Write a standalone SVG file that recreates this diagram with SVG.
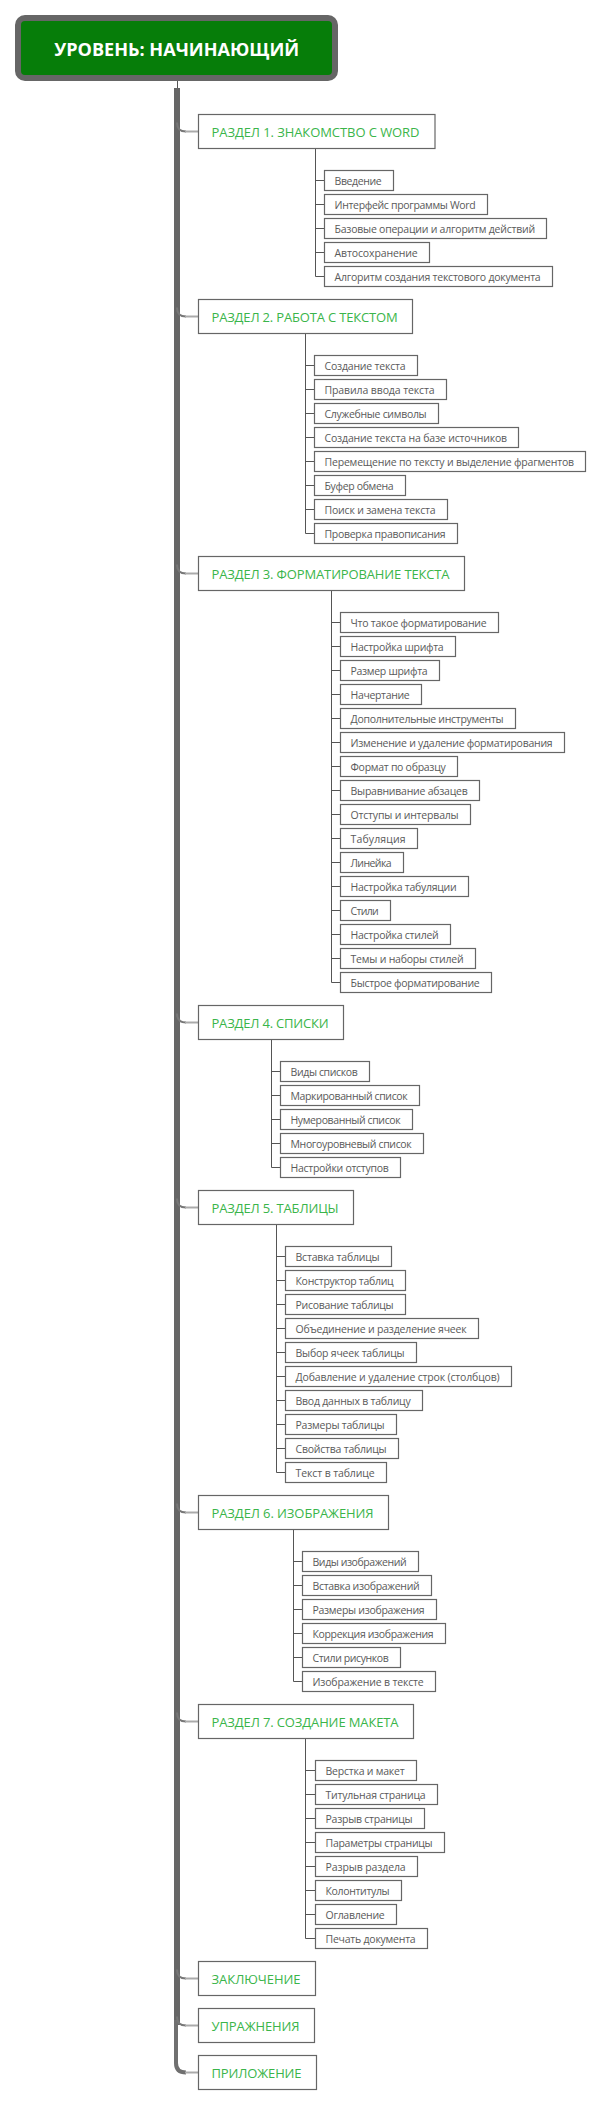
<svg xmlns="http://www.w3.org/2000/svg" width="602" height="2106" viewBox="0 0 602 2106">
<style>
.sec rect{fill:#fff;stroke:#666;stroke-width:1.2}
.sec text{font-family:"Open Sans","Liberation Sans",sans-serif;font-size:13px;fill:#3ab54a}
.item rect{fill:#fff;stroke:#666;stroke-width:1.2}
.item text{font-family:"Open Sans","Liberation Sans",sans-serif;font-size:10.5px;fill:#5a5a5a}
.cl{stroke:#555;stroke-width:1;fill:none}
.br{stroke:#777;stroke-width:2;fill:none}
.bh{stroke:#aaa;stroke-width:2;fill:none}
</style>
<rect width="602" height="2106" fill="#fff"/>
<g id="connectors">
<line class="cl" x1="177.5" y1="81" x2="177.5" y2="89"/>
<rect x="174" y="88" width="6" height="1937" fill="#666"/>
<path d="M176,2020 V2063 Q176,2072.5 186,2072.5" stroke="#707070" stroke-width="4" fill="none"/>
<path class="br" d="M177,122.5 Q177,131.5 186,131.5"/><line class="bh" x1="185" y1="131.5" x2="198.5" y2="131.5"/>
<path class="br" d="M177,307.5 Q177,316.5 186,316.5"/><line class="bh" x1="185" y1="316.5" x2="198.5" y2="316.5"/>
<path class="br" d="M177,564.5 Q177,573.5 186,573.5"/><line class="bh" x1="185" y1="573.5" x2="198.5" y2="573.5"/>
<path class="br" d="M177,1013.5 Q177,1022.5 186,1022.5"/><line class="bh" x1="185" y1="1022.5" x2="198.5" y2="1022.5"/>
<path class="br" d="M177,1198.5 Q177,1207.5 186,1207.5"/><line class="bh" x1="185" y1="1207.5" x2="198.5" y2="1207.5"/>
<path class="br" d="M177,1503.5 Q177,1512.5 186,1512.5"/><line class="bh" x1="185" y1="1512.5" x2="198.5" y2="1512.5"/>
<path class="br" d="M177,1712.5 Q177,1721.5 186,1721.5"/><line class="bh" x1="185" y1="1721.5" x2="198.5" y2="1721.5"/>
<path class="br" d="M177,1969.5 Q177,1978.5 186,1978.5"/><line class="bh" x1="185" y1="1978.5" x2="198.5" y2="1978.5"/>
<path class="br" d="M177,2016.5 Q177,2025.5 186,2025.5"/><line class="bh" x1="185" y1="2025.5" x2="198.5" y2="2025.5"/>
<line class="bh" x1="185" y1="2072.5" x2="198.5" y2="2072.5"/>
<!-- section 1 -->
<path class="cl" d="M315.5,148.5 V276.5 M315.5,180.5 H324.5 M315.5,204.5 H324.5 M315.5,228.5 H324.5 M315.5,252.5 H324.5 M315.5,276.5 H324.5"/>
<!-- section 2 -->
<path class="cl" d="M305.5,333.5 V533.5 M305.5,365.5 H314.5 M305.5,389.5 H314.5 M305.5,413.5 H314.5 M305.5,437.5 H314.5 M305.5,461.5 H314.5 M305.5,485.5 H314.5 M305.5,509.5 H314.5 M305.5,533.5 H314.5"/>
<!-- section 3 -->
<path class="cl" d="M331.5,590.5 V982.5 M331.5,622.5 H340.5 M331.5,646.5 H340.5 M331.5,670.5 H340.5 M331.5,694.5 H340.5 M331.5,718.5 H340.5 M331.5,742.5 H340.5 M331.5,766.5 H340.5 M331.5,790.5 H340.5 M331.5,814.5 H340.5 M331.5,838.5 H340.5 M331.5,862.5 H340.5 M331.5,886.5 H340.5 M331.5,910.5 H340.5 M331.5,934.5 H340.5 M331.5,958.5 H340.5 M331.5,982.5 H340.5"/>
<!-- section 4 -->
<path class="cl" d="M271.5,1039.5 V1167.5 M271.5,1071.5 H280.5 M271.5,1095.5 H280.5 M271.5,1119.5 H280.5 M271.5,1143.5 H280.5 M271.5,1167.5 H280.5"/>
<!-- section 5 -->
<path class="cl" d="M276.5,1224.5 V1472.5 M276.5,1256.5 H285.5 M276.5,1280.5 H285.5 M276.5,1304.5 H285.5 M276.5,1328.5 H285.5 M276.5,1352.5 H285.5 M276.5,1376.5 H285.5 M276.5,1400.5 H285.5 M276.5,1424.5 H285.5 M276.5,1448.5 H285.5 M276.5,1472.5 H285.5"/>
<!-- section 6 -->
<path class="cl" d="M293.5,1529.5 V1681.5 M293.5,1561.5 H302.5 M293.5,1585.5 H302.5 M293.5,1609.5 H302.5 M293.5,1633.5 H302.5 M293.5,1657.5 H302.5 M293.5,1681.5 H302.5"/>
<!-- section 7 -->
<path class="cl" d="M305.5,1738.5 V1938.5 M305.5,1770.5 H315.5 M305.5,1794.5 H315.5 M305.5,1818.5 H315.5 M305.5,1842.5 H315.5 M305.5,1866.5 H315.5 M305.5,1890.5 H315.5 M305.5,1914.5 H315.5 M305.5,1938.5 H315.5"/>
</g>
<g id="root">
<rect x="18" y="18" width="317" height="60" rx="7" fill="#067d09" stroke="#666" stroke-width="6"/>
<text x="176.7" y="56" text-anchor="middle" font-family="'Open Sans','Liberation Sans',sans-serif" font-weight="bold" font-size="18.5" fill="#fff" textLength="245" lengthAdjust="spacingAndGlyphs">УРОВЕНЬ: НАЧИНАЮЩИЙ</text>
</g>
<g id="s1" class="sec"><rect x="198.5" y="114.5" width="236.5" height="34"/><text x="211.5" y="136.5" textLength="208">РАЗДЕЛ 1. ЗНАКОМСТВО С WORD</text></g>
<g id="s1-1" class="item"><rect x="324.5" y="170.5" width="69" height="20"/><text x="334.5" y="185" textLength="47.2">Введение</text></g>
<g id="s1-2" class="item"><rect x="324.5" y="194.5" width="163" height="20"/><text x="334.5" y="209" textLength="141.2">Интерфейс программы Word</text></g>
<g id="s1-3" class="item"><rect x="324.5" y="218.5" width="222" height="20"/><text x="334.5" y="233" textLength="200.6">Базовые операции и алгоритм действий</text></g>
<g id="s1-4" class="item"><rect x="324.5" y="242.5" width="105" height="20"/><text x="334.5" y="257" textLength="83.2">Автосохранение</text></g>
<g id="s1-5" class="item"><rect x="324.5" y="266.5" width="228" height="20"/><text x="334.5" y="281" textLength="206.2">Алгоритм создания текстового документа</text></g>

<g id="s2" class="sec"><rect x="198.5" y="299.5" width="214" height="34"/><text x="211.5" y="321.5" textLength="186.1">РАЗДЕЛ 2. РАБОТА С ТЕКСТОМ</text></g>
<g id="s2-1" class="item"><rect x="314.5" y="355.5" width="103" height="20"/><text x="324.5" y="370" textLength="81.2">Создание текста</text></g>
<g id="s2-2" class="item"><rect x="314.5" y="379.5" width="132" height="20"/><text x="324.5" y="394" textLength="110.2">Правила ввода текста</text></g>
<g id="s2-3" class="item"><rect x="314.5" y="403.5" width="124" height="20"/><text x="324.5" y="418" textLength="102.2">Служебные символы</text></g>
<g id="s2-4" class="item"><rect x="314.5" y="427.5" width="204" height="20"/><text x="324.5" y="442" textLength="182.6">Создание текста на базе источников</text></g>
<g id="s2-5" class="item"><rect x="314.5" y="451.5" width="271" height="20"/><text x="324.5" y="466" textLength="249.6">Перемещение по тексту и выделение фрагментов</text></g>
<g id="s2-6" class="item"><rect x="314.5" y="475.5" width="91" height="20"/><text x="324.5" y="490" textLength="69.2">Буфер обмена</text></g>
<g id="s2-7" class="item"><rect x="314.5" y="499.5" width="133" height="20"/><text x="324.5" y="514" textLength="111.2">Поиск и замена текста</text></g>
<g id="s2-8" class="item"><rect x="314.5" y="523.5" width="143" height="20"/><text x="324.5" y="538" textLength="121.2">Проверка правописания</text></g>

<g id="s3" class="sec"><rect x="198.5" y="556.5" width="266" height="34"/><text x="211.5" y="578.5" textLength="238.1">РАЗДЕЛ 3. ФОРМАТИРОВАНИЕ ТЕКСТА</text></g>
<g id="s3-1" class="item"><rect x="340.5" y="612.5" width="158" height="20"/><text x="350.5" y="627" textLength="136.2">Что такое форматирование</text></g>
<g id="s3-2" class="item"><rect x="340.5" y="636.5" width="115" height="20"/><text x="350.5" y="651" textLength="93.2">Настройка шрифта</text></g>
<g id="s3-3" class="item"><rect x="340.5" y="660.5" width="99" height="20"/><text x="350.5" y="675" textLength="77.2">Размер шрифта</text></g>
<g id="s3-4" class="item"><rect x="340.5" y="684.5" width="81" height="20"/><text x="350.5" y="699" textLength="59.2">Начертание</text></g>
<g id="s3-5" class="item"><rect x="340.5" y="708.5" width="175" height="20"/><text x="350.5" y="723" textLength="153.2">Дополнительные инструменты</text></g>
<g id="s3-6" class="item"><rect x="340.5" y="732.5" width="224" height="20"/><text x="350.5" y="747" textLength="202.2">Изменение и удаление форматирования</text></g>
<g id="s3-7" class="item"><rect x="340.5" y="756.5" width="117" height="20"/><text x="350.5" y="771" textLength="95.2">Формат по образцу</text></g>
<g id="s3-8" class="item"><rect x="340.5" y="780.5" width="139" height="20"/><text x="350.5" y="795" textLength="117.2">Выравнивание абзацев</text></g>
<g id="s3-9" class="item"><rect x="340.5" y="804.5" width="130" height="20"/><text x="350.5" y="819" textLength="108.2">Отступы и интервалы</text></g>
<g id="s3-10" class="item"><rect x="340.5" y="828.5" width="77" height="20"/><text x="350.5" y="843" textLength="55.2">Табуляция</text></g>
<g id="s3-11" class="item"><rect x="340.5" y="852.5" width="63" height="20"/><text x="350.5" y="867" textLength="41.2">Линейка</text></g>
<g id="s3-12" class="item"><rect x="340.5" y="876.5" width="128" height="20"/><text x="350.5" y="891" textLength="106.2">Настройка табуляции</text></g>
<g id="s3-13" class="item"><rect x="340.5" y="900.5" width="50" height="20"/><text x="350.5" y="915" textLength="28.2">Стили</text></g>
<g id="s3-14" class="item"><rect x="340.5" y="924.5" width="110" height="20"/><text x="350.5" y="939" textLength="88.2">Настройка стилей</text></g>
<g id="s3-15" class="item"><rect x="340.5" y="948.5" width="135" height="20"/><text x="350.5" y="963" textLength="113.2">Темы и наборы стилей</text></g>
<g id="s3-16" class="item"><rect x="340.5" y="972.5" width="151" height="20"/><text x="350.5" y="987" textLength="129.2">Быстрое форматирование</text></g>

<g id="s4" class="sec"><rect x="198.5" y="1005.5" width="145" height="34"/><text x="211.5" y="1027.5" textLength="117.1">РАЗДЕЛ 4. СПИСКИ</text></g>
<g id="s4-1" class="item"><rect x="280.5" y="1061.5" width="89" height="20"/><text x="290.5" y="1076" textLength="67.2">Виды списков</text></g>
<g id="s4-2" class="item"><rect x="280.5" y="1085.5" width="139" height="20"/><text x="290.5" y="1100" textLength="117.2">Маркированный список</text></g>
<g id="s4-3" class="item"><rect x="280.5" y="1109.5" width="132" height="20"/><text x="290.5" y="1124" textLength="110.2">Нумерованный список</text></g>
<g id="s4-4" class="item"><rect x="280.5" y="1133.5" width="143" height="20"/><text x="290.5" y="1148" textLength="121.2">Многоуровневый список</text></g>
<g id="s4-5" class="item"><rect x="280.5" y="1157.5" width="120" height="20"/><text x="290.5" y="1172" textLength="98.2">Настройки отступов</text></g>

<g id="s5" class="sec"><rect x="198.5" y="1190.5" width="155" height="34"/><text x="211.5" y="1212.5" textLength="127.1">РАЗДЕЛ 5. ТАБЛИЦЫ</text></g>
<g id="s5-1" class="item"><rect x="285.5" y="1246.5" width="106" height="20"/><text x="295.5" y="1261" textLength="84.2">Вставка таблицы</text></g>
<g id="s5-2" class="item"><rect x="285.5" y="1270.5" width="120" height="20"/><text x="295.5" y="1285" textLength="98.2">Конструктор таблиц</text></g>
<g id="s5-3" class="item"><rect x="285.5" y="1294.5" width="120" height="20"/><text x="295.5" y="1309" textLength="98.2">Рисование таблицы</text></g>
<g id="s5-4" class="item"><rect x="285.5" y="1318.5" width="193" height="20"/><text x="295.5" y="1333" textLength="171.2">Объединение и разделение ячеек</text></g>
<g id="s5-5" class="item"><rect x="285.5" y="1342.5" width="131" height="20"/><text x="295.5" y="1357" textLength="109.2">Выбор ячеек таблицы</text></g>
<g id="s5-6" class="item"><rect x="285.5" y="1366.5" width="226" height="20"/><text x="295.5" y="1381" textLength="204.2">Добавление и удаление строк (столбцов)</text></g>
<g id="s5-7" class="item"><rect x="285.5" y="1390.5" width="137" height="20"/><text x="295.5" y="1405" textLength="115.2">Ввод данных в таблицу</text></g>
<g id="s5-8" class="item"><rect x="285.5" y="1414.5" width="111" height="20"/><text x="295.5" y="1429" textLength="89.2">Размеры таблицы</text></g>
<g id="s5-9" class="item"><rect x="285.5" y="1438.5" width="113" height="20"/><text x="295.5" y="1453" textLength="91.2">Свойства таблицы</text></g>
<g id="s5-10" class="item"><rect x="285.5" y="1462.5" width="101" height="20"/><text x="295.5" y="1477" textLength="79.2">Текст в таблице</text></g>

<g id="s6" class="sec"><rect x="198.5" y="1495.5" width="190" height="34"/><text x="211.5" y="1517.5" textLength="162.1">РАЗДЕЛ 6. ИЗОБРАЖЕНИЯ</text></g>
<g id="s6-1" class="item"><rect x="302.5" y="1551.5" width="116" height="20"/><text x="312.5" y="1566" textLength="94.2">Виды изображений</text></g>
<g id="s6-2" class="item"><rect x="302.5" y="1575.5" width="129" height="20"/><text x="312.5" y="1590" textLength="107.2">Вставка изображений</text></g>
<g id="s6-3" class="item"><rect x="302.5" y="1599.5" width="134" height="20"/><text x="312.5" y="1614" textLength="112.2">Размеры изображения</text></g>
<g id="s6-4" class="item"><rect x="302.5" y="1623.5" width="143" height="20"/><text x="312.5" y="1638" textLength="121.2">Коррекция изображения</text></g>
<g id="s6-5" class="item"><rect x="302.5" y="1647.5" width="98" height="20"/><text x="312.5" y="1662" textLength="76.2">Стили рисунков</text></g>
<g id="s6-6" class="item"><rect x="302.5" y="1671.5" width="133" height="20"/><text x="312.5" y="1686" textLength="111.2">Изображение в тексте</text></g>

<g id="s7" class="sec"><rect x="198.5" y="1704.5" width="215" height="34"/><text x="211.5" y="1726.5" textLength="187.1">РАЗДЕЛ 7. СОЗДАНИЕ МАКЕТА</text></g>
<g id="s7-1" class="item"><rect x="315.5" y="1760.5" width="101" height="20"/><text x="325.5" y="1775" textLength="79.2">Верстка и макет</text></g>
<g id="s7-2" class="item"><rect x="315.5" y="1784.5" width="122" height="20"/><text x="325.5" y="1799" textLength="100.2">Титульная страница</text></g>
<g id="s7-3" class="item"><rect x="315.5" y="1808.5" width="109" height="20"/><text x="325.5" y="1823" textLength="87.2">Разрыв страницы</text></g>
<g id="s7-4" class="item"><rect x="315.5" y="1832.5" width="129" height="20"/><text x="325.5" y="1847" textLength="107.2">Параметры страницы</text></g>
<g id="s7-5" class="item"><rect x="315.5" y="1856.5" width="102" height="20"/><text x="325.5" y="1871" textLength="80.2">Разрыв раздела</text></g>
<g id="s7-6" class="item"><rect x="315.5" y="1880.5" width="86" height="20"/><text x="325.5" y="1895" textLength="64.2">Колонтитулы</text></g>
<g id="s7-7" class="item"><rect x="315.5" y="1904.5" width="81" height="20"/><text x="325.5" y="1919" textLength="59.2">Оглавление</text></g>
<g id="s7-8" class="item"><rect x="315.5" y="1928.5" width="112" height="20"/><text x="325.5" y="1943" textLength="90.2">Печать документа</text></g>

<g id="s8" class="sec"><rect x="198.5" y="1961.5" width="117" height="34"/><text x="211.5" y="1983.5" textLength="89.1">ЗАКЛЮЧЕНИЕ</text></g>
<g id="s9" class="sec"><rect x="198.5" y="2008.5" width="116" height="34"/><text x="211.5" y="2030.5" textLength="88.1">УПРАЖНЕНИЯ</text></g>
<g id="s10" class="sec"><rect x="198.5" y="2055.5" width="118" height="34"/><text x="211.5" y="2077.5" textLength="90.1">ПРИЛОЖЕНИЕ</text></g>
</svg>
